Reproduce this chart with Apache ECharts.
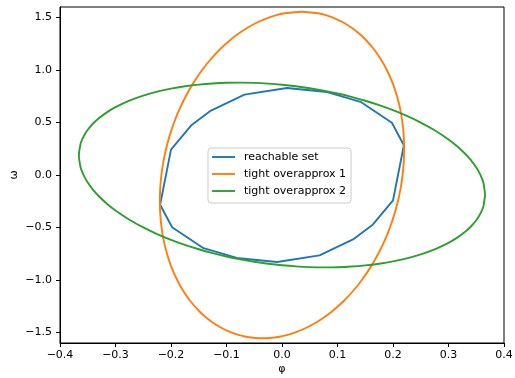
<!DOCTYPE html>
<html>
<head>
<meta charset="utf-8">
<script src="https://cdn.jsdelivr.net/npm/echarts@6/dist/echarts.min.js"></script>
<style>
html,body{margin:0;padding:0;background:#fff;}
#c{width:515px;height:378px;}
</style>
</head>
<body>
<div id="c"></div>
<script>
// reachable set polygon vertices
const reachX = [0.2196, 0.198, 0.1414, 0.0815, 0.0088, -0.0676, -0.128, -0.1628, -0.2, -0.2196, -0.198, -0.1414, -0.0815, -0.0088, 0.0676, 0.128, 0.1628, 0.2, 0.2196];
const reachY = [0.283, 0.497, 0.697, 0.790, 0.828, 0.766, 0.614, 0.477, 0.242, -0.283, -0.497, -0.697, -0.790, -0.828, -0.766, -0.614, -0.477, -0.242, 0.283];
// tight overapprox 1
const approx1X = [0.2173,0.2194,0.2201,0.2193,0.2170,0.2131,0.2072,0.1994,0.1889,0.1784,0.1653,0.1486,0.1383,0.1262,0.1112,0.0958,0.0802,0.0650,0.0351,0.0045,-0.0117,-0.0286,-0.0458,-0.0630,-0.0774,-0.0899,-0.1112,-0.1288,-0.1439,-0.1599,-0.1734,-0.1849,-0.1945,-0.2024,-0.2088,-0.2138,-0.2173,
  -0.2194,-0.2201,-0.2193,-0.2170,-0.2131,-0.2072,-0.1994,-0.1889,-0.1784,-0.1653,-0.1486,-0.1383,-0.1262,-0.1112,-0.0958,-0.0802,-0.0650,-0.0351,-0.0045,0.0117,0.0286,0.0458,0.0630,0.0774,0.0899,0.1112,0.1288,0.1439,0.1599,0.1734,0.1849,0.1945,0.2024,0.2088,0.2138,0.2173];
const approx1Y = [0,0.125,0.25,0.375,0.5,0.625,0.75,0.875,1.0,1.1,1.2,1.3,1.35,1.4,1.45,1.49,1.52,1.54,1.555,1.54,1.52,1.49,1.45,1.4,1.35,1.3,1.2,1.1,1.0,0.875,0.75,0.625,0.5,0.375,0.25,0.125,0,
  -0.125,-0.25,-0.375,-0.5,-0.625,-0.75,-0.875,-1.0,-1.1,-1.2,-1.3,-1.35,-1.4,-1.45,-1.49,-1.52,-1.54,-1.555,-1.54,-1.52,-1.49,-1.45,-1.4,-1.35,-1.3,-1.2,-1.1,-1.0,-0.875,-0.75,-0.625,-0.5,-0.375,-0.25,-0.125,0];
// tight overapprox 2
const approx2X = [0.366,0.363,0.36,0.355,0.35,0.34,0.33,0.315,0.3,0.275,0.25,0.225,0.2,0.175,0.15,0.125,0.1,0.075,0.05,0.025,0,-0.025,-0.05,-0.075,-0.1,-0.125,-0.15,-0.175,-0.2,-0.225,-0.25,-0.275,-0.3,-0.315,-0.33,-0.34,-0.35,-0.355,-0.36,-0.363,-0.366,
  -0.363,-0.36,-0.355,-0.35,-0.34,-0.33,-0.315,-0.3,-0.275,-0.25,-0.225,-0.2,-0.175,-0.15,-0.125,-0.1,-0.075,-0.05,-0.025,0,0.025,0.05,0.075,0.1,0.125,0.15,0.175,0.2,0.225,0.25,0.275,0.3,0.315,0.33,0.34,0.35,0.355,0.36,0.363,0.366];
const approx2Y = [-0.1876,-0.0761,-0.0295,0.0273,0.0719,0.1440,0.2026,0.2763,0.3387,0.4264,0.4997,0.5628,0.6175,0.6654,0.7073,0.7439,0.7758,0.8030,0.8260,0.8449,0.8597,0.8705,0.8773,0.8799,0.8783,0.8721,0.8611,0.8447,0.8225,0.7934,0.7560,0.7083,0.6463,0.5992,0.5409,0.4926,0.4308,0.3912,0.3395,0.2960,0.1876,
  0.0761,0.0295,-0.0273,-0.0719,-0.1440,-0.2026,-0.2763,-0.3387,-0.4264,-0.4997,-0.5628,-0.6175,-0.6654,-0.7073,-0.7439,-0.7758,-0.8030,-0.8260,-0.8449,-0.8597,-0.8705,-0.8773,-0.8799,-0.8783,-0.8721,-0.8611,-0.8447,-0.8225,-0.7934,-0.7560,-0.7083,-0.6463,-0.5992,-0.5409,-0.4926,-0.4308,-0.3912,-0.3395,-0.2960,-0.1876];
const seriesNames = ['reachable set', 'tight overapprox 1', 'tight overapprox 2'];
const yTicks = [-1.5, -1.0, -0.5, 0, 0.5, 1.0, 1.5];
const xLabel = 'φ';
const yLabel = 'ω';

function zip(a, b) { return a.map((v, i) => [v, b[i]]); }
function fmt(v) { return (Math.round(v * 10) / 10).toFixed(1).replace('-', '\u2212'); }

const font = 'DejaVu Sans';
const chart = echarts.init(document.getElementById('c'), null, {renderer: 'canvas'});
const lineW = 1.9;
const lineIcon = 'path://M0,0 L230,0 L230,19 L0,19 Z';
chart.setOption({
  animation: false,
  backgroundColor: '#fff',
  textStyle: {fontFamily: font},
  grid: {left: 60, right: 11, top: 7, bottom: 35, outerBoundsMode: 'none', containLabel: false,
         show: true, borderColor: '#000', borderWidth: 1, backgroundColor: 'transparent'},
  legend: {
    orient: 'vertical', left: 208, top: 148,
    itemWidth: 23, itemHeight: 14, itemGap: 3,
    padding: [2, 5, 5, 4],
    symbolKeepAspect: true,
    backgroundColor: 'rgba(255,255,255,0.8)', borderColor: '#cccccc', borderWidth: 1, borderRadius: 3,
    textStyle: {fontFamily: font, fontSize: 11, color: '#000', padding: [0, 0, 0, 4], lineHeight: 14},
    data: seriesNames.map(n => ({name: n, icon: lineIcon}))
  },
  xAxis: {
    type: 'value', min: -0.4, max: 0.4, interval: 0.1,
    name: xLabel, nameLocation: 'middle', nameGap: 21, nameMoveOverlap: false,
    nameTextStyle: {fontFamily: font, fontSize: 11, color: '#000'},
    axisLine: {show: true, onZero: false, lineStyle: {color: '#000', width: 1}},
    axisTick: {show: true, inside: false, length: 4, lineStyle: {color: '#000'}},
    axisLabel: {formatter: fmt, fontFamily: font, fontSize: 11, color: '#000', margin: 7},
    splitLine: {show: false}
  },
  yAxis: {
    type: 'value', min: -1.6, max: 1.6,
    name: yLabel, nameLocation: 'middle', nameGap: 40, nameRotate: 90, nameMoveOverlap: false,
    nameTextStyle: {fontFamily: font, fontSize: 11, color: '#000'},
    axisLine: {show: true, onZero: false, lineStyle: {color: '#000', width: 1}},
    axisTick: {show: true, inside: false, length: 4, lineStyle: {color: '#000'}, customValues: yTicks},
    axisLabel: {formatter: fmt, fontFamily: font, fontSize: 11, color: '#000', margin: 8, customValues: yTicks},
    splitLine: {show: false}
  },
  series: [
    {name: seriesNames[0], type: 'line', data: zip(reachX, reachY), symbol: 'none', showSymbol: false, smooth: false,
     color: '#1f77b4', lineStyle: {color: '#1f77b4', width: lineW}},
    {name: seriesNames[1], type: 'line', data: zip(approx1X, approx1Y), symbol: 'none', showSymbol: false, smooth: 0.3,
     color: '#ff7f0e', lineStyle: {color: '#ff7f0e', width: lineW}},
    {name: seriesNames[2], type: 'line', data: zip(approx2X, approx2Y), symbol: 'none', showSymbol: false, smooth: 0.3,
     color: '#2ca02c', lineStyle: {color: '#2ca02c', width: lineW}}
  ]
});
</script>
</body>
</html>
